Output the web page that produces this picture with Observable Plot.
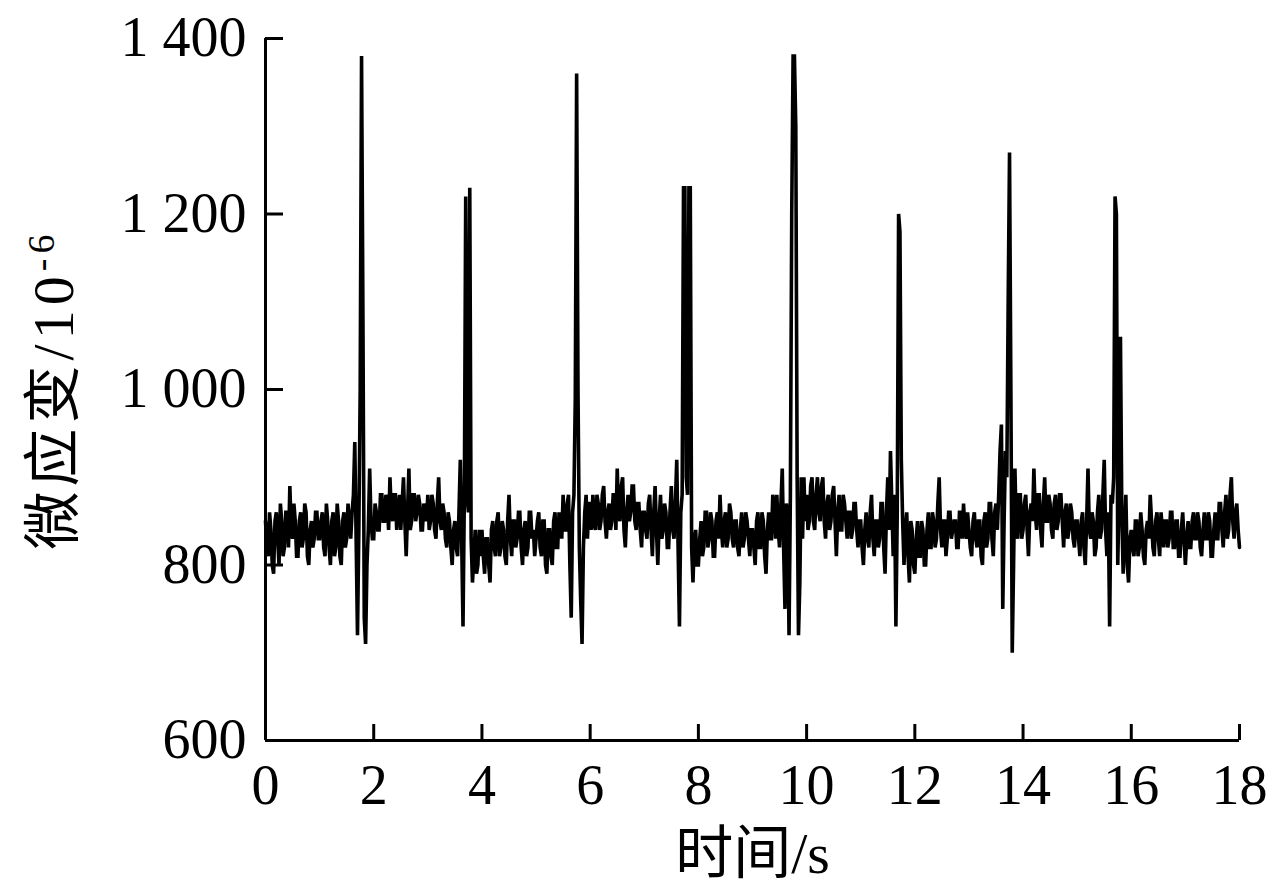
<!DOCTYPE html>
<html>
<head>
<meta charset="utf-8">
<script src="https://cdn.jsdelivr.net/npm/d3@7"></script>
<script src="https://cdn.jsdelivr.net/npm/@observablehq/plot@0.6"></script>
<style>
  html, body { margin: 0; padding: 0; background: #fff; }
</style>
</head>
<body>
<div id="chart"></div>
<script>
// ---- data, one row per second ----
const sampleInterval = 0.025; // seconds between samples
const strain = [
  850, 820, 810, 860, 840, 800, 790, 850, 860, 830, 800, 870, 850, 810, 820, 860, 860, 820, 890, 840, 830, 870, 850, 810, 810, 850, 860, 820, 830, 870, 860, 810, 800, 840, 850, 820, 830, 860, 860, 830,
  830, 850, 860, 820, 810, 870, 850, 820, 800, 850, 860, 810, 820, 870, 850, 810, 800, 850, 860, 820, 830, 870, 850, 830, 860, 880, 940, 830, 720, 840, 1000, 1380, 1090, 740, 710, 800, 840, 910, 850, 830,
  830, 870, 860, 840, 840, 880, 880, 850, 850, 880, 870, 840, 900, 860, 850, 880, 880, 840, 860, 880, 840, 870, 900, 850, 810, 860, 910, 840, 850, 880, 880, 850, 860, 880, 870, 840, 840, 870, 860, 850,
  880, 840, 850, 880, 870, 840, 830, 870, 900, 850, 840, 870, 860, 830, 820, 860, 850, 820, 800, 840, 850, 820, 810, 860, 920, 830, 730, 880, 1220, 880, 860, 1230, 830, 780, 810, 840, 790, 800, 840, 810,
  840, 810, 790, 830, 830, 800, 780, 840, 850, 820, 810, 850, 860, 810, 820, 850, 840, 810, 800, 850, 880, 830, 810, 850, 850, 820, 830, 860, 860, 820, 800, 840, 850, 810, 820, 860, 860, 830, 840, 810,
  830, 850, 860, 820, 810, 850, 850, 800, 790, 840, 840, 810, 800, 850, 860, 820, 820, 860, 850, 830, 880, 840, 840, 870, 880, 800, 740, 860, 880, 990, 1360, 1000, 820, 760, 710, 820, 860, 880, 830, 870,
  870, 840, 880, 850, 840, 880, 870, 840, 850, 880, 890, 850, 830, 860, 870, 840, 850, 880, 880, 840, 910, 860, 850, 890, 900, 840, 820, 860, 880, 850, 860, 890, 890, 850, 840, 870, 870, 840, 820, 860,
  860, 840, 830, 870, 880, 840, 810, 860, 890, 840, 800, 850, 880, 830, 840, 870, 860, 820, 820, 860, 890, 840, 830, 870, 920, 820, 730, 860, 880, 1230, 1230, 900, 880, 1230, 1230, 820, 780, 830, 840, 800,
  800, 830, 850, 810, 820, 860, 860, 820, 830, 860, 850, 810, 810, 850, 860, 830, 880, 840, 820, 850, 860, 820, 830, 870, 860, 830, 820, 850, 850, 820, 810, 840, 860, 820, 830, 860, 850, 830, 810, 840,
  840, 820, 800, 850, 860, 820, 820, 860, 850, 810, 790, 840, 860, 830, 830, 880, 870, 830, 880, 840, 820, 870, 910, 820, 750, 870, 860, 720, 880, 1200, 1380, 1380, 1300, 900, 720, 780, 900, 830, 900, 850,
  880, 840, 850, 890, 900, 850, 840, 880, 900, 860, 850, 890, 900, 850, 830, 870, 880, 840, 850, 880, 890, 850, 810, 860, 880, 840, 840, 880, 870, 850, 830, 860, 860, 830, 840, 870, 870, 840, 820, 850,
  850, 820, 800, 840, 860, 830, 820, 860, 880, 830, 810, 850, 850, 820, 830, 870, 870, 820, 790, 860, 900, 840, 930, 870, 810, 880, 730, 860, 1200, 1180, 920, 850, 800, 840, 860, 810, 780, 850, 840, 800,
  790, 830, 850, 810, 810, 850, 840, 800, 800, 840, 860, 820, 820, 860, 850, 820, 830, 870, 900, 840, 820, 850, 850, 810, 830, 860, 860, 830, 840, 850, 850, 820, 820, 860, 860, 830, 870, 840, 830, 860,
  840, 820, 810, 850, 860, 830, 820, 850, 850, 810, 800, 850, 860, 820, 830, 870, 870, 830, 810, 860, 870, 840, 880, 930, 960, 750, 850, 930, 900, 1100, 1270, 1000, 700, 800, 910, 840, 830, 880, 880, 830,
  840, 870, 880, 840, 810, 860, 870, 850, 910, 860, 840, 880, 880, 840, 820, 870, 900, 850, 850, 880, 870, 840, 830, 870, 880, 840, 850, 880, 880, 850, 820, 860, 870, 830, 840, 870, 860, 830, 820, 850,
  850, 830, 810, 850, 860, 820, 800, 850, 910, 840, 830, 860, 850, 810, 820, 860, 880, 830, 840, 880, 920, 840, 810, 860, 730, 880, 870, 900, 1220, 1200, 800, 880, 1060, 860, 790, 840, 880, 800, 780, 830,
  840, 820, 810, 850, 850, 810, 820, 860, 840, 810, 800, 840, 850, 830, 880, 850, 820, 810, 850, 860, 830, 810, 860, 840, 820, 850, 850, 820, 830, 860, 860, 820, 820, 850, 850, 810, 810, 840, 860, 830,
  800, 830, 850, 820, 820, 850, 860, 830, 830, 860, 850, 820, 810, 840, 860, 830, 830, 860, 850, 810, 810, 840, 860, 830, 830, 870, 870, 840, 820, 860, 880, 830, 840, 880, 900, 850, 830, 860, 870, 840,
  820
];
const xTicks = [0, 2, 4, 6, 8, 10, 12, 14, 16, 18];
const yTicks = [600, 800, 1000, 1200, 1400];
const yTickLabels = ["600", "800", "1 000", "1 200", "1 400"];
const xLabel = "时间/s";
const yLabelMain = "微应变/10";
const yLabelExp = "-6";

// ---- build table ----
const data = strain.map((v, i) => ({ t: Math.round(i * sampleInterval * 1000) / 1000, v }));

const W = 1275, H = 891;
const mL = 265, mR = 36, mT = 38, mB = 151;
const plotW = W - mL - mR, plotH = H - mT - mB;
const serif = '"Liberation Serif", "Times New Roman", "Noto Sans CJK SC", serif';

const chart = Plot.plot({
  width: W,
  height: H,
  marginLeft: mL,
  marginRight: mR,
  marginTop: mT,
  marginBottom: mB,
  style: { fontFamily: serif, fontSize: "56px", background: "#fff", color: "#000", overflow: "visible" },
  x: { domain: [0, 18] },
  y: { domain: [600, 1400] },
  marks: [
    Plot.line(data, { x: "t", y: "v", stroke: "#000", strokeWidth: 3.6, strokeLinejoin: "miter", strokeMiterlimit: 1.5 }),
    Plot.ruleX([0], { stroke: "#000", strokeWidth: 3 }),
    Plot.ruleY([600], { stroke: "#000", strokeWidth: 3 }),
    Plot.tickY(yTicks, { y: d => d, insetRight: plotW - 18, stroke: "#000", strokeWidth: 3 }),
    Plot.tickX(xTicks, { x: d => d, insetTop: plotH - 16, stroke: "#000", strokeWidth: 3 }),
    Plot.axisY({ ticks: yTicks, tickSize: 0, tickPadding: 19, tickFormat: d => yTickLabels[yTicks.indexOf(d)], label: null, fontSize: 56 }),
    Plot.axisX({ ticks: xTicks, tickSize: 0, tickPadding: 24, tickFormat: d => String(d), label: null, fontSize: 56 }),
    Plot.text([xLabel], { text: d => d, frameAnchor: "bottom", lineAnchor: "bottom", dy: 132, fontSize: 58, fill: "#000", letterSpacing: "4px" }),
    Plot.text([yLabelMain], { text: d => d, frameAnchor: "left", textAnchor: "middle", rotate: -90, dx: -211, fontSize: 58, fill: "#000" })
  ]
});

// superscript exponent on the y label; widen the slash spacing a little
d3.select(chart).selectAll("text")
  .filter(function () { return this.textContent === yLabelMain; })
  .each(function () {
    const t = d3.select(this);
    t.text(null);
    t.attr("letter-spacing", "5px");
    t.append("tspan").text(yLabelMain);
    t.append("tspan").attr("dy", "-19").attr("font-size", "38").text(yLabelExp);
  });

document.getElementById("chart").appendChild(chart);
</script>
</body>
</html>
